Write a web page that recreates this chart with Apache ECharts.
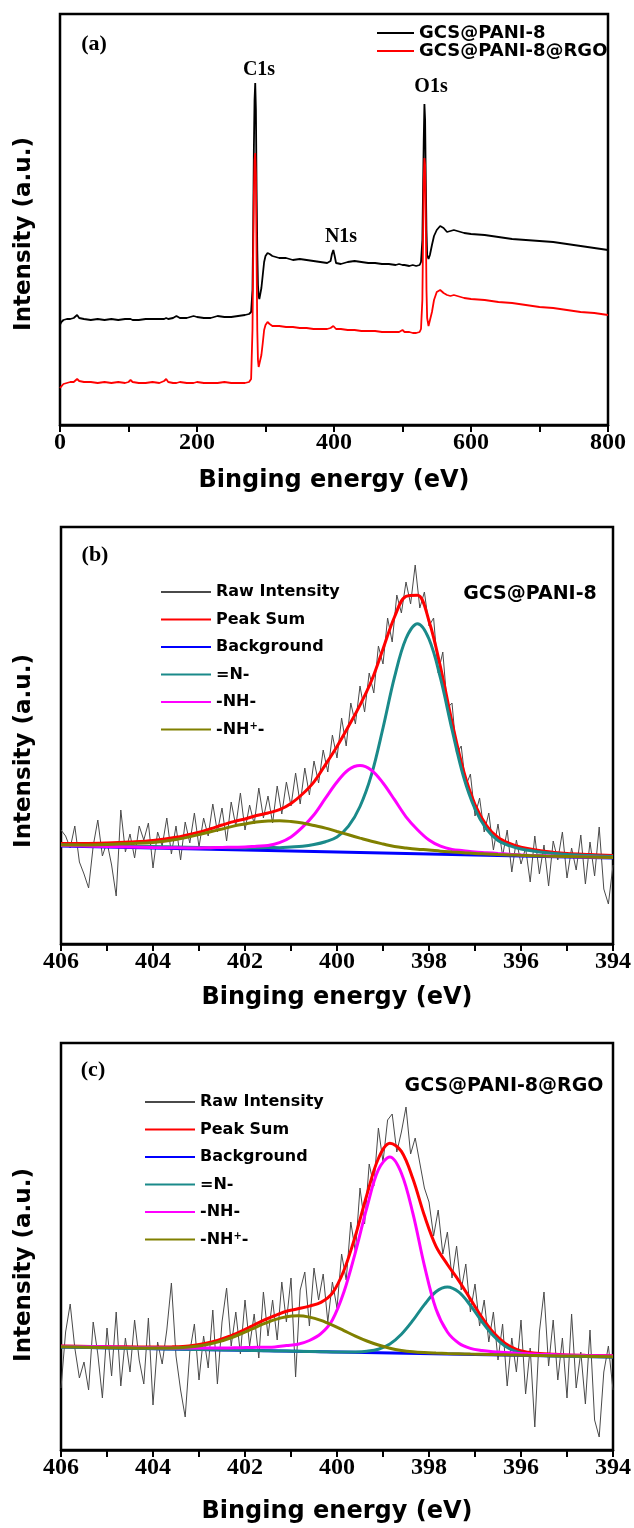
<!DOCTYPE html>
<html>
<head>
<meta charset="utf-8">
<script src="https://cdn.jsdelivr.net/npm/echarts@6/dist/echarts.min.js"></script>
<style>
  html, body { margin: 0; padding: 0; background: #fff; }
  #chart { width: 634px; height: 1528px; }
</style>
</head>
<body>
<div id="chart"></div>
<script>
// ---------- (a) XPS survey spectra ----------
const surveyEnergy = [0,2,5,10,15,20,25,28,35,45,55,65,75,85,95,100,103,106,115,125,135,145,152,155,158,165,170,175,185,195,197,200,210,220,230,240,250,260,270,276,279,281,282,283,284,285,286,287,288,289,290,291,292,294,296,298,300,303,306,310,315,320,330,340,350,360,370,380,390,395,397,399,401,403,410,420,430,440,450,460,470,480,490,495,500,503,510,515,520,525,527,529,530,531,532,533,534,535,536,538,540,543,546,550,555,560,565,570,575,580,590,600,620,640,660,680,700,720,740,760,780,800];
const surveyPani = [100,103,105,106,106,107,110,107,106,105,106,105,106,105,106,106,106,105,105,106,106,106,106,107,106,107,109,107,107,109,111,108,107,107,109,108,108,109,110,111,113,135,195,275,325,342,315,235,175,140,129,126,128,137,150,163,169,172,171,169,168,167,167,165,166,165,164,163,162,164,171,175,169,162,161,163,164,163,162,162,161,161,160,161,160,160,159,160,159,160,163,185,235,285,321,305,245,195,170,166,170,180,189,195,199,197,193,194,195,194,192,191,190,188,186,185,184,183,181,179,177,175];
const surveyPaniRgo = [37,39,41,42,43,43,46,44,43,43,42,43,42,43,42,43,45,43,42,42,43,42,44,46,43,42,42,43,42,42,42,43,42,42,42,43,42,42,42,43,46,95,165,230,265,272,250,165,95,65,58,57,60,70,82,95,100,103,101,99,99,99,98,98,97,97,96,96,96,97,98,99,98,96,96,95,95,94,94,94,93,93,93,93,95,93,93,92,92,93,96,125,185,245,267,260,205,135,107,99,101,113,125,133,135,132,130,129,130,129,127,126,125,123,122,120,118,117,115,113,112,110];

// ---------- (b) N 1s, GCS@PANI-8 ----------
const rawB = [
  114,108,96,118,82,70,56,98,124,88,
  102,79,48,134,92,110,86,118,104,121,
  76,112,98,126,90,118,84,122,101,131,
  97,126,108,140,112,136,103,142,118,151,
  114,139,120,156,126,148,121,158,130,162,
  138,171,140,176,149,183,161,194,172,209,
  186,226,198,241,220,258,232,271,251,298,
  280,326,302,349,331,362,340,379,336,352,
  318,326,271,292,236,241,190,198,158,170,
  128,146,112,131,94,120,88,114,72,104,
  80,96,62,108,70,99,58,103,84,112,
  66,96,74,109,60,102,68,117,55,40,
  79];
const fitEnergyB = [406,405.5,405,404.5,404,403.5,403,402.75,402.5,402.25,402,401.75,401.5,401.25,401,400.75,400.5,400.25,400,399.75,399.5,399.25,399,398.75,398.5,398.25,398,397.75,397.5,397.25,397,396.75,396.5,396.25,396,395.5,395,394.5,394];
const peakSumB = [100.5,100.5,101,102,103.5,106.7,111.9,115.2,119,122.4,125,128.5,131,134.3,140.5,150,162.2,179.4,197.5,217.7,238.9,263.2,295,327,347.7,348.8,323,276.8,222,173.3,139.5,118.5,106.5,100.6,96.7,92.7,90.5,89.5,88.5];
const imineB = [99,98.5,98,97.5,97.5,97,96.5,96.3,96.5,96.3,96,96.3,96.5,96.3,97,97.8,99.5,102.3,107,117.8,137.5,169.3,216,266.8,305.5,320.3,305,265.8,214.5,167.3,135,114.8,103.5,98.3,95,91.5,89.5,88.5,87.5];
const amineB = [98.5,98,97.5,97,96.5,96.2,96,96.3,96.5,96.8,97,97.8,98.5,101.3,107,116.8,129.2,145.8,162,174.3,178.5,173.8,161,144.3,127.2,114.3,104,97.8,94.5,93.3,92,91.3,90.5,89.8,89,88.2,87.5,87,86.5];
const cationB = [99,99,99.5,100.5,101.5,104.5,109.4,112.2,115,117.9,120,122,123,123.3,122.5,121,118.5,115.9,112.5,109.2,105.9,102.7,100,97.5,96,94.8,94,92.8,92,91.3,90.5,90,89.5,89.1,88.7,88,87.5,87,86.5];
const bgEnergyB = [406, 394];
const backgroundB = [98, 86];

// ---------- (c) N 1s, GCS@PANI-8@RGO ----------
const rawC = [
  62,118,146,102,72,88,60,128,96,52,
  122,74,138,64,112,78,130,90,66,132,
  45,108,86,120,167,94,60,33,98,126,
  70,114,82,140,66,128,162,104,138,96,
  150,104,136,92,158,114,150,110,168,128,
  172,73,160,178,124,182,150,176,128,168,
  142,196,170,228,198,262,226,286,264,322,
  288,330,336,298,318,343,296,312,287,262,
  248,214,240,196,218,172,204,160,186,138,
  166,124,150,108,138,90,126,64,112,78,
  130,56,102,23,118,158,84,130,70,112,
  52,136,62,98,46,120,30,13,78,104,
  60];
const fitEnergyC = [406,405.35,404.85,404.35,403.85,403.6,403.35,403.1,402.85,402.6,402.35,402.1,401.85,401.6,401.35,401.1,400.85,400.6,400.35,400.1,399.85,399.6,399.35,399.1,398.85,398.6,398.35,398.1,397.85,397.6,397.35,397.1,396.85,396.6,396.35,396.1,395.85,395.6,395.1,394.6,394];
const peakSumC = [104,103.6,103.3,103,102.9,103.1,103.6,104.8,106.7,109.6,113.5,118.5,124,129.6,134.4,138.8,141.2,143.9,147.6,156.9,179.5,214.3,255.3,291.5,306.8,298.6,271.2,234.4,203.9,185.5,169.2,150.9,132.7,117.4,106.7,100.5,97.8,96.4,95.3,94.7,94.2];
const imineC = [103,102.5,102,101.6,101.2,101,100.8,100.6,100.4,100.2,100,99.8,99.5,99.3,99.1,98.9,98.7,98.5,98.3,98.1,98,98.1,98.8,100.8,106,115.8,129.6,145.4,158.2,163,157.8,144.6,128.4,114.2,104,98.3,95.8,94.7,93.9,93.5,93];
const amineC = [103.8,103.4,103,102.6,102.2,102.1,102,102,101.9,101.9,102,102.3,102.5,102.8,103.1,104.4,105.7,109.5,116.3,130.1,157.9,197.7,242.5,280.3,293,276.8,236.6,184.4,141.2,118,106.8,101.6,99.4,98.2,97.5,96.8,96.3,95.8,95.1,94.5,94];
const cationC = [103.2,102.7,102.3,102,101.9,102,102.4,103.4,105.2,107.9,111.5,116,121,126.1,130.4,133.3,134.2,132.9,129.6,124.9,119.4,113.9,109,105,101.8,99.6,98.2,97.4,96.9,96.5,96.2,95.9,95.7,95.4,95.2,95,94.7,94.5,94.1,93.7,93.2];
const bgEnergyC = [406, 394];
const backgroundC = [103, 93];

// Raw spectra are recorded on a 0.1 eV step starting at 406 eV
const rawStart = 406, rawStep = 0.1;
const rawEnergy = rawB.map((_, i) => +(rawStart - i * rawStep).toFixed(2));

const surveyTicks = { min: 0, max: 800, interval: 200 };
const n1sTicks = { min: 394, max: 406, interval: 2 };

const pairs = (xs, ys) => xs.map((x, i) => [x, ys[i]]);

const SANS = '"DejaVu Sans", "Liberation Sans", sans-serif';
const SERIF = '"Liberation Serif", "Times New Roman", serif';

const COLORS = {
  pani: '#000000', rgo: '#ff0000', raw: '#4a4a4a',
  sum: '#ff0000', bg: '#0000ff', imine: '#1a8a8a', amine: '#ff00ff', cation: '#808000'
};

function xAxisCfg(gridIndex, ticks, inverse, nameGap) {
  return {
    type: 'value', gridIndex, min: ticks.min, max: ticks.max, interval: ticks.interval, inverse,
    name: 'Binging energy (eV)', nameLocation: 'middle', nameGap,
    nameTextStyle: { fontFamily: SANS, fontWeight: 'bold', fontSize: 24, color: '#000' },
    axisLine: { show: true, onZero: false, lineStyle: { color: '#000', width: 2.5 } },
    axisTick: { show: true, inside: false, length: 7, lineStyle: { color: '#000', width: 2 } },
    minorTick: { show: true, splitNumber: 2, length: 7, lineStyle: { color: '#000', width: 2 } },
    axisLabel: { margin: 6, fontFamily: SERIF, fontWeight: 'bold', fontSize: 24, color: '#000' },
    splitLine: { show: false }, minorSplitLine: { show: false }
  };
}
function yAxisCfg(gridIndex, max) {
  return {
    type: 'value', gridIndex, min: 0, max,
    axisLine: { show: false }, axisTick: { show: false }, axisLabel: { show: false },
    splitLine: { show: false }
  };
}
function lineSeries(name, idx, data, color, width, smooth) {
  return {
    name, type: 'line', xAxisIndex: idx, yAxisIndex: idx, data,
    symbol: 'none', showSymbol: false, smooth: smooth ? 0.35 : false,
    lineStyle: { color, width }, itemStyle: { color }, emphasis: { disabled: true }
  };
}
function fitSeries(idx, raw, fx, sum, bgx, bg, imine, amine, cation) {
  return [
    lineSeries('Raw Intensity', idx, pairs(rawEnergy, raw), COLORS.raw, 1, false),
    lineSeries('Peak Sum', idx, pairs(fx, sum), COLORS.sum, 3, true),
    lineSeries('Background', idx, pairs(bgx, bg), COLORS.bg, 3, false),
    lineSeries('=N-', idx, pairs(fx, imine), COLORS.imine, 3, true),
    lineSeries('-NH-', idx, pairs(fx, amine), COLORS.amine, 3, true),
    lineSeries('-NH+-', idx, pairs(fx, cation), COLORS.cation, 3, true)
  ];
}
const fitNames = ['Raw Intensity', 'Peak Sum', 'Background', '=N-', '-NH-', '-NH+-'];
// legend keys are plain line segments (no point marker)
const legendKey = { itemStyle: { opacity: 0 } };
function fitLegend(left, top) {
  return Object.assign({
    orient: 'vertical', left, top, padding: 0, itemGap: 11.5,
    itemWidth: 50, itemHeight: 10, selectedMode: false, data: fitNames,
    formatter: n => (n === '-NH+-' ? '-NH{sup|+}-' : n),
    textStyle: {
      fontFamily: SANS, fontWeight: 'bold', fontSize: 16, lineHeight: 16, color: '#000', padding: [0, 0, 0, 0],
      rich: { sup: { fontFamily: SANS, fontWeight: 'bold', fontSize: 10, lineHeight: 16, verticalAlign: 'top', color: '#000' } }
    }
  }, legendKey);
}
function txt(text, x, y, font, extra) {
  return Object.assign({
    type: 'text', x, y, silent: true,
    style: { text, font, fill: '#000', textAlign: 'center', textVerticalAlign: 'middle' }
  }, extra || {});
}
const yTitle = (x, y) => txt('Intensity (a.u.)', x, y, 'bold 23px ' + SANS, { rotation: Math.PI / 2 });

const option = {
  animation: false,
  backgroundColor: '#fff',
  grid: [
    { left: 60, top: 14, width: 548, height: 411, show: true, borderColor: '#000', borderWidth: 2.5, backgroundColor: 'transparent' },
    { left: 61, top: 527, width: 552, height: 417, show: true, borderColor: '#000', borderWidth: 2.5, backgroundColor: 'transparent' },
    { left: 61, top: 1043, width: 552, height: 407, show: true, borderColor: '#000', borderWidth: 2.5, backgroundColor: 'transparent' }
  ],
  xAxis: [
    xAxisCfg(0, surveyTicks, false, 44),
    xAxisCfg(1, n1sTicks, true, 42),
    xAxisCfg(2, n1sTicks, true, 50)
  ],
  yAxis: [yAxisCfg(0, 411), yAxisCfg(1, 417), yAxisCfg(2, 407)],
  legend: [
    Object.assign({
      orient: 'vertical', left: 376, top: 24, padding: 0, itemGap: 0,
      itemWidth: 37, itemHeight: 10, selectedMode: false,
      data: ['GCS@PANI-8', 'GCS@PANI-8@RGO'],
      textStyle: { fontFamily: SANS, fontWeight: 'bold', fontSize: 18, lineHeight: 17, color: '#000' }
    }, legendKey),
    fitLegend(160, 584),
    fitLegend(144, 1094)
  ],
  series: [
    lineSeries('GCS@PANI-8', 0, pairs(surveyEnergy, surveyPani), COLORS.pani, 1.8, false),
    lineSeries('GCS@PANI-8@RGO', 0, pairs(surveyEnergy, surveyPaniRgo), COLORS.rgo, 1.8, false),
    ...fitSeries(1, rawB, fitEnergyB, peakSumB, bgEnergyB, backgroundB, imineB, amineB, cationB),
    ...fitSeries(2, rawC, fitEnergyC, peakSumC, bgEnergyC, backgroundC, imineC, amineC, cationC)
  ],
  graphic: [
    txt('(a)', 94, 44, 'bold 22px ' + SERIF),
    txt('(b)', 95, 555, 'bold 22px ' + SERIF),
    txt('(c)', 93, 1070, 'bold 22px ' + SERIF),
    txt('C1s', 259, 70, 'bold 20px ' + SERIF),
    txt('O1s', 431, 87, 'bold 20px ' + SERIF),
    txt('N1s', 341, 237, 'bold 20px ' + SERIF),
    txt('GCS@PANI-8', 530, 594, 'bold 19px ' + SANS),
    txt('GCS@PANI-8@RGO', 504, 1086, 'bold 19px ' + SANS),
    yTitle(24, 234),
    yTitle(24, 751),
    yTitle(24, 1265)
  ]
};

const chart = echarts.init(document.getElementById('chart'), null, { renderer: 'canvas' });
chart.setOption(option);
</script>
</body>
</html>
